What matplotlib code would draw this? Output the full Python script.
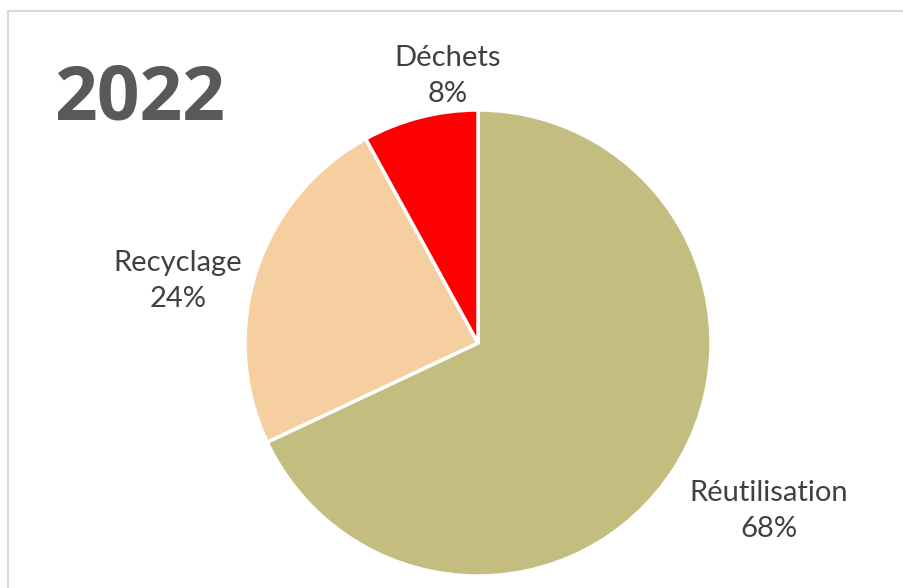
import matplotlib.pyplot as plt
from matplotlib.patches import Rectangle

categories = ['Réutilisation', 'Recyclage', 'Déchets']
shares = [68, 24, 8]
colors = ['#C3BD80', '#F6CFA0', '#FF0000']
title = '2022'

W, H = 904, 588
fig = plt.figure(figsize=(W / 100, H / 100), dpi=100)

# light grey chart border (left/top visible, runs off the image)
fig.patches.append(Rectangle((8 / W, -0.05), 1.1, (H - 11) / H + 0.05, transform=fig.transFigure,
                             fill=False, edgecolor='#D9D9D9', linewidth=1.5))

ax = fig.add_axes([245 / W, 12 / H, 466 / W, 466 / H])
ax.pie(shares, colors=colors, startangle=90, counterclock=False,
       wedgeprops=dict(edgecolor='white', linewidth=2.5))
ax.set_xlim(-1, 1)
ax.set_ylim(-1, 1)
ax.axis('off')

# label centres in pixels
label_pos = [(769, 511), (178, 281), (448, 76)]
for name, val, (px, py) in zip(categories, shares, label_pos):
    fig.text(px / W, 1 - py / H, f'{name}\n{val}%', ha='center', va='center',
             fontsize=21, color='#404040', family='Lato', linespacing=1.5)

fig.text(140 / W, 1 - 120 / H, title, ha='center', va='baseline', fontsize=54,
         fontweight='bold', color='#595959', family='Open Sans')

fig.savefig('out.png', dpi=100)
